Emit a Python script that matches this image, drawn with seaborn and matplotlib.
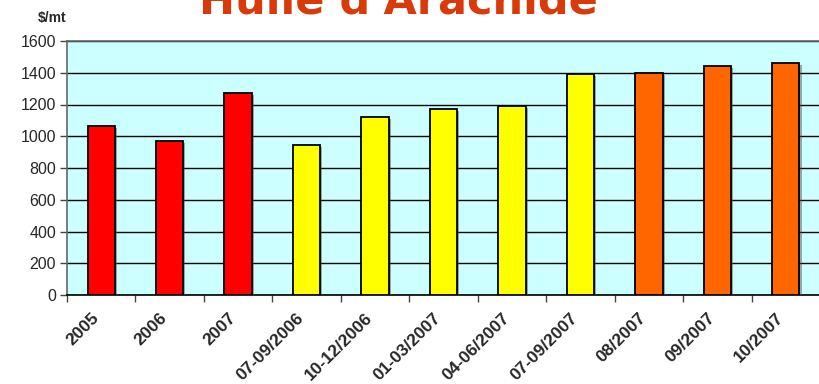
import matplotlib
matplotlib.use("Agg")
import matplotlib.pyplot as plt
import matplotlib.patheffects as pe
import matplotlib.transforms as mtransforms
import seaborn as sns
import pandas as pd

categories = ["2005", "2006", "2007", "07-09/2006", "10-12/2006", "01-03/2007",
              "04-06/2007", "07-09/2007", "08/2007", "09/2007", "10/2007"]
values = [1065, 972, 1270, 947, 1121, 1172, 1190, 1392, 1400, 1443, 1460]
bar_colors = ["#FF0000", "#FF0000", "#FF0000", "#FFFF00", "#FFFF00", "#FFFF00",
              "#FFFF00", "#FFFF00", "#FF6600", "#FF6600", "#FF6600"]
y_ticks = [0, 200, 400, 600, 800, 1000, 1200, 1400, 1600]
title = "Huile d'Arachide"
unit_label = "$/mt"

df = pd.DataFrame({"cat": categories, "val": values})

sns.set_style("white")
plt.rcParams["font.family"] = ["Liberation Sans", "DejaVu Sans"]

fig = plt.figure(figsize=(8.2, 3.84), dpi=100)
ax = fig.add_axes([67 / 820, 1 - 295 / 384, 1 - 67 / 820, (295 - 41) / 384])
ax.set_facecolor("#CCFFFF")

sns.barplot(data=df, x="cat", y="val", hue="cat", palette=bar_colors,
            legend=False, width=0.4, edgecolor="black", linewidth=1.3,
            saturation=1, ax=ax, zorder=3)
for p in ax.patches:
    p.set_path_effects([pe.SimplePatchShadow(offset=(1.5, -1.5), shadow_rgbFace="#555555", alpha=0.5),
                        pe.Normal()])

ax.set_ylim(0, 1600)
ax.set_xlim(-0.5, len(categories) - 0.5)
ax.set_yticks(y_ticks)
ax.set_yticklabels([str(v) for v in y_ticks], fontsize=11.5)
ax.yaxis.grid(True, color="black", linewidth=1.0, zorder=1)
ax.set_axisbelow(True)

# labels at category centres, tick marks at boundaries
ax.set_xticks(range(len(categories)))
ax.set_xticklabels(categories, rotation=45, ha="right", va="center",
                   rotation_mode="anchor", fontsize=12.5, fontweight="bold")
ax.tick_params(axis="x", which="major", length=0, pad=15)
shift = mtransforms.ScaledTranslation(-5 / 100, 0, fig.dpi_scale_trans)
for lab in ax.get_xticklabels():
    lab.set_transform(lab.get_transform() + shift)
ax.set_xticks([i - 0.5 for i in range(len(categories) + 1)], minor=True)
ax.tick_params(axis="x", which="minor", length=5, width=1, color="#444444", direction="out")
ax.tick_params(axis="y", length=5, width=1, color="#444444", direction="out", pad=3)
ax.xaxis.set_ticks_position("bottom")
ax.yaxis.set_ticks_position("left")

ax.set_xlabel("")
ax.set_ylabel("")
for s in ["left", "top"]:
    ax.spines[s].set_color("#666666")
    ax.spines[s].set_linewidth(1.2)
ax.spines["bottom"].set_color("black")
ax.spines["bottom"].set_linewidth(1.2)
ax.spines["right"].set_visible(False)

fig.text(38 / 820, 1 - 22 / 384, unit_label, fontsize=10, fontweight="bold",
         ha="left", va="baseline")
fig.text(398 / 820, 1 - 14 / 384, title, fontsize=31, color="#D93A0A",
         fontweight="bold", ha="center", va="baseline", family=["DejaVu Sans"])

fig.savefig("out.png", dpi=100)
